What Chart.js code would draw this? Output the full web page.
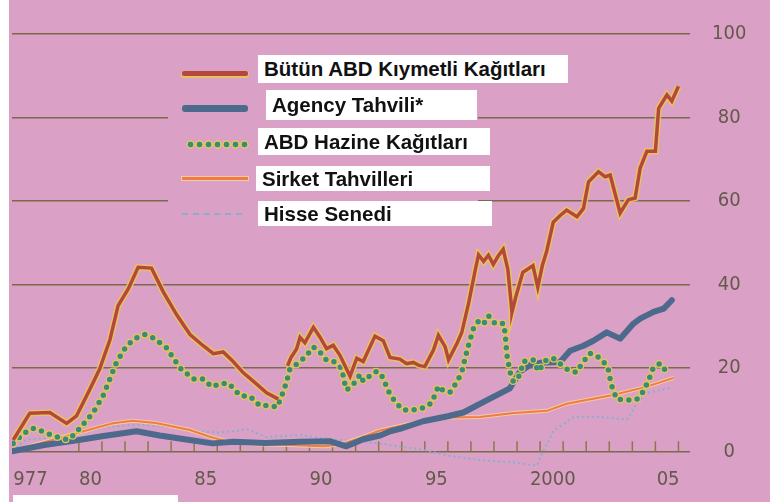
<!DOCTYPE html>
<html><head><meta charset="utf-8">
<script src="https://cdn.jsdelivr.net/npm/chart.js@4"></script>
<style>
html,body{margin:0;padding:0;background:#dba0c6;}
#wrap{position:relative;width:770px;height:502px;overflow:hidden;background:#dba0c6;}
canvas{position:absolute;left:0;top:0;}
.white{position:absolute;background:#fff;}
.backdrop{position:absolute;background:#dba0c6;}
.box{position:absolute;background:#fff;font:bold 20.5px 'Liberation Sans',Arial,sans-serif;color:#111;box-sizing:border-box;padding-left:6px;display:flex;align-items:center;white-space:nowrap;}
.sample{position:absolute;}
</style></head><body>
<div id="wrap">
<canvas id="c" width="770" height="502"></canvas>
<div class="white" style="left:0;top:0;width:9px;height:502px;"></div>
<div class="white" style="left:13px;top:495px;width:165px;height:7px;"></div>
<div class="backdrop" style="left:168px;top:50px;width:310px;height:180px;"></div>
<div class="sample" style="left:182px;top:71px;width:66px;height:5px;background:#b5483c;box-shadow:0 1px 0 1px rgba(232,200,80,0.85);border-radius:2px;"></div>
<div class="sample" style="left:182px;top:105px;width:66px;height:7px;background:#4d6a8c;border-radius:3px;"></div>
<div class="sample" style="left:186px;top:140px;width:63px;height:9px;background:radial-gradient(circle,#3a8c7a 0,#3a8c7a 2.6px,#e3c85a 3.2px,#e3c85a 4px,transparent 4.5px);background-size:9px 9px;"></div>
<div class="sample" style="left:182px;top:177px;width:66px;height:3px;background:#f07a48;box-shadow:0 0 0 1px rgba(250,215,150,0.8);"></div>
<div class="sample" style="left:182px;top:213px;width:60px;height:0;border-top:2px dashed #86b0cc;"></div>
<div class="box" style="left:258px;top:55px;width:310px;height:28px;">Bütün ABD Kıymetli Kağıtları</div>
<div class="box" style="left:266px;top:90px;width:211px;height:30px;">Agency Tahvili*</div>
<div class="box" style="left:258px;top:128px;width:232px;height:27px;">ABD Hazine Kağıtları</div>
<div class="box" style="left:256px;top:166px;width:234px;height:25px;">Sirket Tahvilleri</div>
<div class="box" style="left:258px;top:201px;width:234px;height:25px;">Hisse Senedi</div>
</div>
<script>
// ---- data ----
const tickYears = [1977.9, 1980.5, 1985.5, 1990.5, 1995.5, 2000.55, 2005.55];
const tickLabels = ['977', '80', '85', '90', '95', '2000', '05'];
const yTicks = [0, 20, 40, 60, 80, 100];

const allYears = [1977.15,1977.87,1978.74,1979.47,1979.9,1980.48,1980.9,1981.35,1981.7,1982.14,1982.57,1983.15,1983.66,1984.24,1984.82,1985.39,1985.83,1986.26,1986.69,1987.13,1987.56,1988.14,1988.65,1988.85,
  1989.05,1989.2,1989.44,1989.59,1989.8,1990.17,1990.45,1990.74,1991.03,1991.32,1991.76,1992.05,1992.33,1992.84,1993.2,1993.49,1993.92,1994.21,1994.5,1994.75,1995.0,1995.38,1995.59,1995.88,1996.03,1996.4,1996.6,1996.9,1997.19,1997.33,1997.55,1997.76,1997.97,1998.18,1998.4,1998.6,1998.74,1998.78,1998.96,1999.25,1999.47,1999.69,1999.9,2000.1,2000.28,2000.57,2000.87,2001.15,2001.6,2001.88,2002.1,2002.53,2002.82,2003.04,2003.47,2003.83,2004.12,2004.34,2004.63,2005.0,2005.14,2005.5,2005.71,2006.0];
const allValues = [2.7,9.1,9.3,6.7,8.5,14.9,19.7,26.8,34.9,38.9,44.1,43.9,38.2,32.7,28.0,25.3,23.4,23.8,21.5,18.8,16.8,14.0,12.5,null,
  20.5,22.5,24.5,27.3,26.0,29.7,27.4,24.6,25.4,23.0,18.0,22.3,21.5,27.6,26.5,22.5,22.1,21.0,21.3,20.6,20.3,24.3,27.8,25.1,21.9,25.9,28.4,35.5,43.5,47.1,45.5,47.0,44.8,46.8,48.4,43.6,35.7,33.3,37.3,42.9,43.7,44.5,39.3,44.6,47.8,54.9,56.5,57.8,56.2,58.2,64.6,67.0,65.8,66.2,57.1,60.3,60.7,67.9,71.9,71.9,82.2,85.4,83.9,87.5];

const agencyYears = [1977.1,1978.5,1980.0,1981.0,1982.5,1983.5,1984.8,1985.8,1986.7,1988.1,1989.6,1990.9,1991.6,1992.33,1993.06,1993.5,1993.92,1994.93,1996.0,1996.67,1997.68,1998.69,1999.13,1999.56,2000.0,2000.87,2001.3,2001.88,2002.31,2002.89,2003.47,2004.05,2004.34,2004.92,2005.36,2005.71];
const agencyValues = [0,1.5,2.7,3.6,4.8,3.8,2.7,1.9,2.3,2.0,2.3,2.4,1.2,2.9,3.8,4.8,5.4,7.2,8.4,9.3,12.2,15.1,19.1,20.7,21.2,21.4,24.1,25.3,26.5,28.5,27.0,30.6,31.8,33.4,34.2,36.2];

const treasuryYears = [1977.15,1977.6,1978.02,1978.45,1978.89,1979.5,1979.8,1980.19,1980.62,1981.05,1981.34,1981.63,1982.07,1982.5,1982.86,1983.22,1983.8,1984.38,1984.96,1985.4,1985.76,1986.12,1986.48,1986.7,1986.99,1987.42,1987.85,1988.29,1988.6,1988.86,1989.0,1989.15,1989.44,1989.8,1990.17,1990.45,1990.74,1991.1,1991.4,1991.54,1991.61,1991.9,1992.2,1992.33,1992.6,1992.92,1993.2,1993.35,1993.49,1993.78,1994.07,1994.5,1994.93,1995.3,1995.59,1995.73,1996.09,1996.38,1996.6,1996.74,1996.89,1997.1,1997.33,1997.55,1997.76,1998.05,1998.42,1998.49,1998.56,1998.69,1998.84,1999.13,1999.27,1999.7,1999.92,2000.28,2000.6,2001.15,2001.58,2001.8,2002.16,2002.45,2002.73,2002.95,2003.02,2003.1,2003.32,2003.75,2004.18,2004.4,2004.69,2004.9,2005.2,2005.42,2005.64];
const treasuryValues = [1.9,4.3,5.5,4.7,3.7,2.8,4.0,6.5,9.3,13.3,17.3,21.3,25.3,27.2,28.0,27.2,24.8,20.0,17.3,17.3,15.4,16.2,16.3,15.1,13.3,13.2,10.9,11.0,10.6,14.2,16.5,19.7,20.9,22.5,25.0,23.8,21.8,21.4,19.8,15.9,14.7,16.0,18.4,16.8,18.0,19.2,17.6,15.3,13.7,11.4,9.9,9.9,10.4,11.6,15.6,14.8,14.1,16.5,18.9,22.1,25.3,29.3,31.2,30.5,32.5,30.6,30.6,27.8,23.1,19.1,16.7,18.3,21.5,21.9,19.2,22.0,22.2,19.7,18.9,20.9,23.5,22.9,21.6,19.8,17.8,15.8,12.5,12.3,12.4,13.6,16.8,19.9,21.1,19.5,19.1];

const corpYears = [1977.1,1978.5,1980.0,1981.47,1982.33,1983.34,1984.82,1985.68,1986.4,1987.7,1989.15,1990.6,1991.3,1992.05,1993.06,1994.5,1995.95,1997.4,1998.85,2000.3,2001.15,2003.17,2004.63,2005.79];
const corpValues = [0,2.2,4.5,6.7,7.3,6.8,5.1,3.5,2.4,1.7,1.5,1.2,1.6,2.9,5.0,6.8,8.1,8.2,9.2,9.7,11.4,13.5,15.5,17.6];

const stockYears = [1977.1,1977.73,1978.74,1979.9,1981.35,1982.65,1984.0,1985.25,1986.0,1986.69,1987.28,1988.14,1989.59,1990.45,1991.76,1993.2,1993.9,1994.93,1995.94,1997.4,1998.85,1999.86,2000.15,2000.58,2001.45,2002.46,2003.77,2004.2,2004.63,2005.64];
const stockValues = [0.3,2.8,3.2,4.1,5.9,6.4,5.8,4.7,4.5,4.8,5.3,3.4,3.9,3.2,2.5,1.8,1.1,0.4,-1.0,-2.1,-2.7,-3.4,0.1,4.9,8.2,8.3,7.6,11.6,14.0,15.2];

// ---- build ----
function pts(xs, ys){ return xs.map((x,i)=>({x:x, y:ys[i]})); }
const FONT = "'Liberation Sans Narrow','DejaVu Sans Condensed','Liberation Sans',sans-serif";
const LABEL_COLOR = '#625a4a';

const yearTicksPlugin = {
  id:'yearTicks',
  beforeDatasetsDraw(chart){
    const xs = chart.scales.x, ys = chart.scales.y, ctx = chart.ctx;
    const y0 = ys.getPixelForValue(0);
    ctx.save();
    ctx.strokeStyle = '#8a7848';
    ctx.lineWidth = 1.5;
    for (let yr = 1980; yr <= 2006; yr++) {
      const px = xs.getPixelForValue(yr);
      ctx.beginPath(); ctx.moveTo(px, y0); ctx.lineTo(px, y0 - 10); ctx.stroke();
    }
    ctx.restore();
  }
};

const common = {pointRadius:0, tension:0, fill:false, spanGaps:false};

new Chart(document.getElementById('c'), {
  type:'line',
  data:{
    datasets:[
      Object.assign({label:'Bütün ABD Kıymetli Kağıtları', data:pts(allYears, allValues), borderColor:'#b5483c', borderWidth:3.5, order:0}, common),
      Object.assign({label:'halo1', data:pts(allYears, allValues), borderColor:'rgba(232,200,80,0.85)', borderWidth:6.5, order:1}, common),
      Object.assign({label:'ABD Hazine Kağıtları', data:pts(treasuryYears, treasuryValues), borderColor:'#3a8c7a', borderWidth:5.5, borderDash:[0,8.5], borderCapStyle:'round', order:2}, common),
      Object.assign({label:'halo2', data:pts(treasuryYears, treasuryValues), borderColor:'rgba(228,200,85,0.95)', borderWidth:8, borderDash:[0,8.5], borderCapStyle:'round', order:3}, common),
      Object.assign({label:'Agency Tahvili*', data:pts(agencyYears, agencyValues), borderColor:'#4d6a8c', borderWidth:6, borderCapStyle:'round', borderJoinStyle:'round', order:4}, common),
      Object.assign({label:'Sirket Tahvilleri', data:pts(corpYears, corpValues), borderColor:'#f07a48', borderWidth:2, order:5}, common),
      Object.assign({label:'halo3', data:pts(corpYears, corpValues), borderColor:'rgba(250,215,150,0.8)', borderWidth:4, order:6}, common),
      Object.assign({label:'Hisse Senedi', data:pts(stockYears, stockValues), borderColor:'#86b0cc', borderWidth:2, borderDash:[2,3], order:7}, common)
    ]
  },
  options:{
    responsive:false,
    animation:false,
    devicePixelRatio:1,
    layout:{padding:{left:12, top:27, right:0, bottom:0}},
    plugins:{legend:{display:false}, tooltip:{enabled:false}, title:{display:false}},
    scales:{
      x:{
        type:'linear', position:'bottom', min:1977.1, max:2006.5,
        grid:{display:false, drawTicks:false}, border:{display:false},
        afterBuildTicks(scale){ scale.ticks = tickYears.map(v=>({value:v})); },
        afterFit(scale){ scale.height = 33; },
        ticks:{
          autoSkip:false, maxRotation:0, padding:0, color:LABEL_COLOR,
          font:{family:FONT, size:20},
          callback(value, index){ return tickLabels[index]; }
        }
      },
      y:{
        type:'linear', position:'right', min:-4, max:100,
        afterBuildTicks(scale){ scale.ticks = yTicks.map(v=>({value:v})); },
        afterFit(scale){ scale.width = 80; },
        grid:{color:'#7a6a4a', lineWidth:1.5, drawTicks:false},
        border:{display:false},
        ticks:{padding:22, crossAlign:'center', color:LABEL_COLOR, font:{family:FONT, size:20}}
      }
    }
  },
  plugins:[yearTicksPlugin]
});
</script>
</body></html>
